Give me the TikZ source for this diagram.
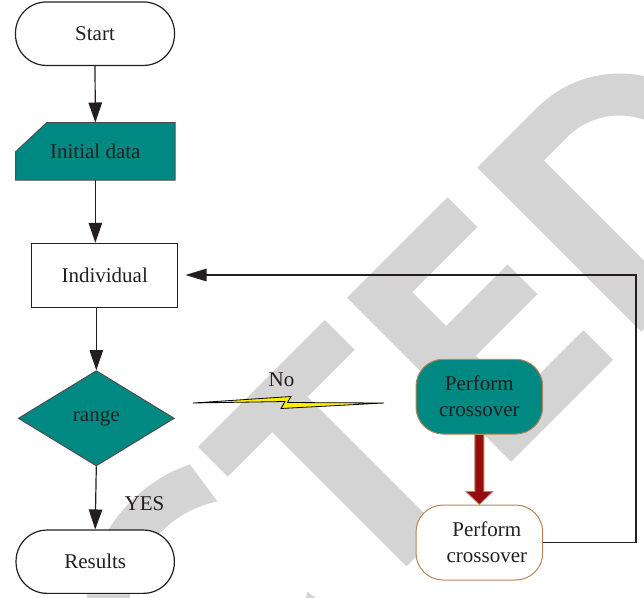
\documentclass[tikz,border=0pt]{standalone}
\usepackage{fontspec}
\setmainfont{Liberation Serif}
\usetikzlibrary{arrows.meta,shapes.geometric,calc}
\definecolor{teal1}{RGB}{0,137,130}
\definecolor{wmgray}{RGB}{212,212,212}
\definecolor{tanb}{RGB}{184,134,86}
\definecolor{dred}{RGB}{150,12,18}
\definecolor{ink}{RGB}{35,31,32}
\definecolor{bolt}{RGB}{255,238,0}
\begin{document}
\begin{tikzpicture}[x=1pt,y=-1pt,
  txt/.style={font=\fontsize{21}{26}\selectfont, text=ink, inner sep=0pt},
  term/.style={txt, draw=ink, line width=1.2pt, fill=white, rectangle, rounded corners=31pt},
  procbox/.style={txt, draw=ink, line width=1pt, fill=white, rectangle},
  decbox/.style={txt, draw=ink!80, line width=1pt, fill=teal1, diamond},
  pcbox/.style={txt, draw=tanb, line width=1pt, rectangle, rounded corners=27pt, align=center,
     minimum width=126.7pt, minimum height=74.7pt},
  arr/.style={draw=ink, line width=1.2pt, -{Triangle[length=20pt,width=13.5pt]}},
  farr/.style={draw=ink, line width=1.2pt, -{Triangle[length=21pt,width=12.5pt]}}
]
\useasboundingbox (0,0) rectangle (644,597);
\clip (0,0) rectangle (644,597);
\fill[white] (0,0) rectangle (644,597);
% watermark
\begin{scope}[rotate=45, fill=wmgray]
  % C
  \fill plot[domain=61:299, samples=60, variable=\t] ({-262+140*cos(\t)},{572-125*sin(\t)})
     -- plot[domain=309:51, samples=60, variable=\t] ({-262+97*cos(\t)},{572-82*sin(\t)}) -- cycle;
  % T
  \fill (-176,456) rectangle (3.5,498);
  \fill (-113,497) rectangle (-63,688);
  % E
  \fill (35,456) rectangle (85,688);
  \fill (84,456) rectangle (177,498);
  \fill (84,546) rectangle (172,588);
  \fill (84,646) rectangle (179,688);
  % D
  \fill[even odd rule] (219,456) -- (304,456)
     -- plot[domain=90:-90, samples=60, variable=\t] ({304+116*cos(\t)},{572-116*sin(\t)})
     -- (219,688) -- cycle
     (271,498) -- (304,498)
     -- plot[domain=90:-90, samples=60, variable=\t] ({304+74*cos(\t)},{572-74*sin(\t)})
     -- (271,646) -- cycle;
\end{scope}

% nodes
\node[term, minimum width=159pt, minimum height=63.5pt] (start) at (95,33.7) {Start};
\filldraw[fill=teal1, draw=ink!80, line width=1pt]
  (46.7,122.7) -- (175,122.7) -- (175,180) -- (15.7,180) -- (15.7,151.7) -- cycle;
\node[txt, minimum width=159.3pt, minimum height=57.3pt] (init) at (95.35,151.35) {Initial data};
\node[procbox, minimum width=146pt, minimum height=64pt] (ind) at (104.7,275.3) {Individual};
\node[decbox, minimum width=156pt, minimum height=95.3pt] (range) at (96.3,418.3) {range};
\node[term, minimum width=158.3pt, minimum height=63.3pt] (results) at (95.2,561.7) {Results};
\node[pcbox, fill=teal1] (pc1) at (479.35,396.65) {Perform\\crossover};
\node[pcbox, fill=white, minimum height=75pt] (pc2) at (479.35,542.5) {\hspace*{15pt}Perform\\\hspace*{15pt}crossover};
\node[txt] (yes) at (144.5,503.5) {YES};
\node[txt] (no) at (281.5,380) {No};
\coordinate (fbtop) at (636,275);

% connectors
\draw[arr] (start.south) -- (init.north);
\draw[arr] (init.south) -- (init.south |- ind.north);
\draw[arr] (range.north |- ind.south) -- (range.north);
\draw[arr] (range.south) -- (results.north);
\draw[farr, shorten >=7.3pt] (pc2.east) -| (fbtop) -- (fbtop -| ind.east);

% lightning
\filldraw[fill=bolt, draw=black, line width=0.8pt, line join=miter]
  (193,403) -- (291,396.5) -- (287.5,402.5) -- (384,403) -- (281,408.5) -- (285,401.5) -- cycle;

% block arrow
\filldraw[fill=dred, draw=tanb, line width=0.8pt]
  ($(pc1.south)+(-4.5,0)$) -- ($(pc2.north)+(-4.5,-13)$) -- ($(pc2.north)+(-13.5,-13)$)
  -- (pc2.north) -- ($(pc2.north)+(13.5,-13)$) -- ($(pc2.north)+(4.5,-13)$)
  -- ($(pc1.south)+(4.5,0)$) -- cycle;
\end{tikzpicture}
\end{document}
